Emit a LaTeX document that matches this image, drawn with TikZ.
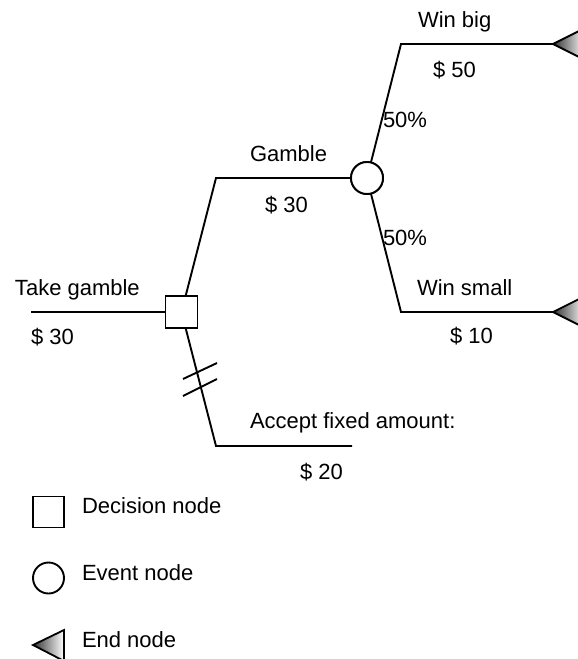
\documentclass[tikz,border=0pt]{standalone}
\usepackage{fontspec}
\setmainfont{Liberation Sans}
\begin{document}
\begin{tikzpicture}[x=1pt,y=-1pt,
  every node/.style={inner sep=0pt,outer sep=0pt},
  lbl/.style={anchor=base west,font=\fontsize{22}{26}\selectfont},
  edge/.style={line width=1.9pt,line join=miter},
  decbox/.style={draw,line width=1.9pt,minimum size=32pt,fill=white},
  evcirc/.style={draw,circle,line width=1.9pt,minimum size=32pt,fill=white},
  endtri/.style={draw,line width=1.8pt,line join=miter,left color=black!80,right color=white}]
\useasboundingbox (0,0) rectangle (578,659);
\clip (0,0) rectangle (578,659);

% nodes
\node[decbox] (dec) at (181.5,312) {};
\node[evcirc] (ev) at (367,178) {};
\coordinate (start) at (31,312);
\coordinate (g1) at (216,178);
\coordinate (u1) at (401,44);
\coordinate (e1) at (553,44);
\coordinate (d1) at (401,312);
\coordinate (e2) at (553,312);
\coordinate (f1) at (216,446);
\coordinate (f2) at (352,446);

% connectors
\draw[edge] (start) -- (dec.west);
\draw[edge] (dec) -- (g1) -- (ev.west);
\draw[edge] (ev) -- (u1) -- (e1);
\draw[edge] (ev) -- (d1) -- (e2);
\draw[edge] (dec) -- (f1) -- (f2);
\node[decbox] at (dec) {};
\node[evcirc] at (ev) {};

% hash marks
\draw[edge] (183,379) -- (217,363);
\draw[edge] (183,396) -- (217,379);

% end nodes
\draw[endtri] (e1) -- (585,28) -- (585,60) -- cycle;
\draw[endtri] (e2) -- (585,296) -- (585,328) -- cycle;

% labels
\node[lbl] (t1) at (15,295) {Take gamble};
\node[lbl] (t2) at (31,344) {\$ 30};
\node[lbl] (t3) at (250,161) {Gamble};
\node[lbl] (t4) at (265,212) {\$ 30};
\node[lbl] (t5) at (418,27) {Win big};
\node[lbl] (t6) at (433,77) {\$ 50};
\node[lbl] (t7) at (383,127) {50\%};
\node[lbl] (t8) at (383,245) {50\%};
\node[lbl] (t9) at (417,295) {Win small};
\node[lbl] (t10) at (450,343) {\$ 10};
\node[lbl] (t11) at (250,428) {Accept fixed amount:};
\node[lbl] (t12) at (300,479) {\$ 20};

% legend
\node[decbox,minimum size=31pt] (ldec) at (48.5,512) {};
\node[evcirc,minimum size=31pt] (lev) at (48.5,578) {};
\coordinate (ltip) at (33,645);
\draw[endtri] (ltip) -- (64,630) -- (64,661) -- cycle;
\node[lbl] (l1) at (82,513) {Decision node};
\node[lbl] (l2) at (82,580) {Event node};
\node[lbl] (l3) at (82,647) {End node};
\end{tikzpicture}
\end{document}
